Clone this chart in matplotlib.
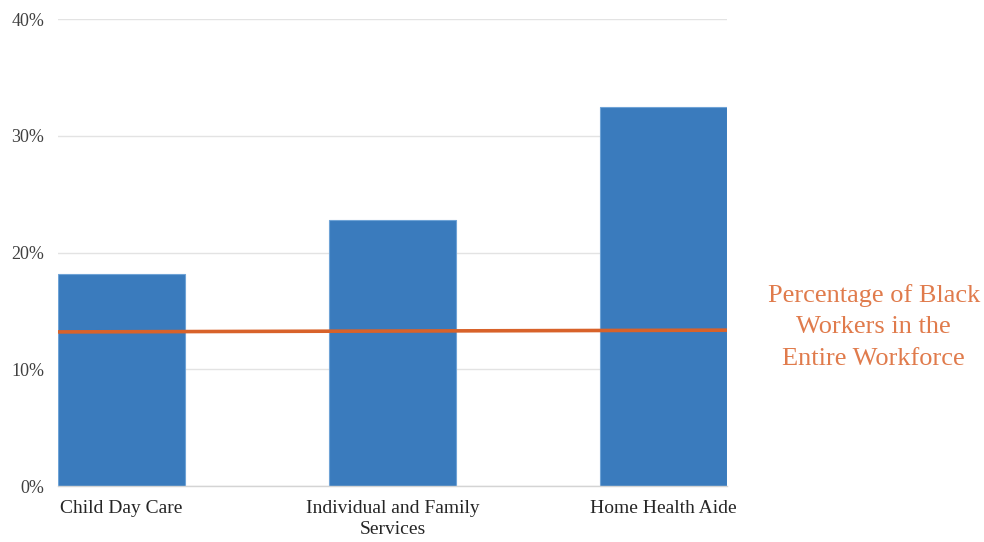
import matplotlib
matplotlib.use("Agg")
import matplotlib.pyplot as plt
from matplotlib.ticker import FuncFormatter

categories = ["Child Day Care", "Individual and Family\nServices", "Home Health Aide"]
black_share = [18.2, 22.75, 32.5]          # % of Black workers by sector
workforce_share = [13.2, 13.35]            # % of Black workers in entire workforce (left, right end)
y_ticks = [0, 10, 20, 30, 40]
note = "Percentage of Black\nWorkers in the\nEntire Workforce"

plt.rcParams["font.family"] = ["Liberation Serif", "DejaVu Serif"]

fig = plt.figure(figsize=(9.84, 5.42), dpi=100)
ax = fig.add_axes([0.0589, 0.1033, 0.6799, 0.8616])

bar_w = 0.47
x = range(len(categories))
ax.bar(x, black_share, width=bar_w, color="#3A7BBD", edgecolor="#6FA3D6",
       linewidth=0.8, zorder=2)

x0 = -bar_w / 2
x1 = len(categories) - 1 + bar_w / 2
ax.plot([x0, x1], workforce_share, color="#D8622A", linewidth=2.6,
        solid_capstyle="butt", zorder=3)

ax.set_xlim(x0, x1)
ax.set_ylim(0, 40)
ax.set_yticks(y_ticks)
ax.yaxis.set_major_formatter(FuncFormatter(lambda v, _: f"{v:.0f}%"))
ax.set_xticks(list(x))
ax.set_xticklabels(categories, fontsize=14, color="#262626", linespacing=1.35)

ax.grid(axis="y", color="#E3E3E3", linewidth=1.0, zorder=0)
ax.set_axisbelow(True)
for s in ["top", "right", "left"]:
    ax.spines[s].set_visible(False)
ax.spines["bottom"].set_color("#D4D4D4")
ax.spines["bottom"].set_linewidth(1.0)
ax.tick_params(axis="both", length=0)
ax.tick_params(axis="y", labelsize=13, labelcolor="#404040", pad=10)
ax.tick_params(axis="x", pad=10)

fig.text(0.888, 0.3967, note, ha="center", va="center", fontsize=19,
         color="#E07B4C", linespacing=1.55)

fig.savefig("out.png", dpi=100, facecolor="white")
